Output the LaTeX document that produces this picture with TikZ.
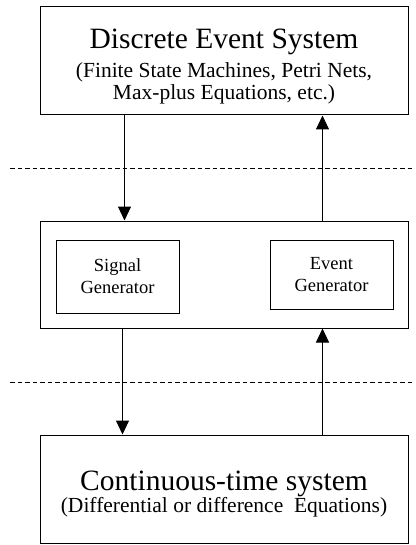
\documentclass[tikz,border=0pt]{standalone}
\usepackage{fontspec}
\setmainfont{Liberation Serif}
\usetikzlibrary{arrows.meta,positioning}

\begin{document}
\begin{tikzpicture}[x=1pt,y=-1pt,>={Triangle[width=13pt,length=14pt]},
  sysbox/.style={draw,line width=1pt,minimum width=368pt,inner sep=0pt,align=center,
    font=\fontsize{21.5}{22}\selectfont},
  genbox/.style={draw,line width=1pt,minimum width=123pt,inner sep=0pt,align=center,
    font=\fontsize{18.5}{22}\selectfont},
  link/.style={->,line width=1pt},
  layer/.style={line width=0.9pt,dash pattern=on 4.5pt off 3pt}]
\useasboundingbox (0,0) rectangle (415,545);

% Layer boundaries
\draw[layer] (10,168) -- (415,168);
\draw[layer] (10,382) -- (415,382);

% Discrete event level
\node[sysbox,minimum height=108pt] (des) at (224,61)
  {{\fontsize{29.5}{22}\selectfont\rule{0pt}{30pt}Discrete Event System}\\[7pt]
   (Finite State Machines, Petri Nets,\\ Max-plus Equations, etc.)};

% Interface with its two generators
\node[sysbox,minimum height=107pt] (iface) at (224,274.5) {};
\node[genbox,minimum height=73pt] (siggen) at (117.5,276.5) {Signal\\Generator};
\node[genbox,minimum height=69pt] (evtgen) at (331.5,274.5) {Event\\Generator};

% Continuous level
\node[sysbox,minimum height=108pt] (cts) at (224,489)
  {{\fontsize{29.5}{22}\selectfont\rule{0pt}{30pt}Continuous-time system}\\
   (Differential or difference\ \ Equations)};

% Signals down, events up
\draw[link] ([xshift=85pt]des.south west) -- ([xshift=85pt]iface.north west);
\draw[link] ([xshift=283pt]iface.north west) -- ([xshift=283pt]des.south west);
\draw[link] ([xshift=83pt]iface.south west) -- ([xshift=83pt]cts.north west);
\draw[link] ([xshift=283pt]cts.north west) -- ([xshift=283pt]iface.south west);
\end{tikzpicture}
\end{document}
